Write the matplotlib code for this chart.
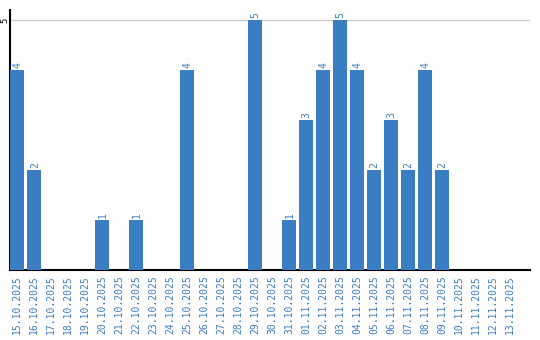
import matplotlib
matplotlib.use('Agg')
import matplotlib.pyplot as plt
from matplotlib.transforms import blended_transform_factory

DATES = ['15.10.2025', '16.10.2025', '17.10.2025', '18.10.2025', '19.10.2025',
         '20.10.2025', '21.10.2025', '22.10.2025', '23.10.2025', '24.10.2025',
         '25.10.2025', '26.10.2025', '27.10.2025', '28.10.2025', '29.10.2025',
         '30.10.2025', '31.10.2025', '01.11.2025', '02.11.2025', '03.11.2025',
         '04.11.2025', '05.11.2025', '06.11.2025', '07.11.2025', '08.11.2025',
         '09.11.2025', '10.11.2025', '11.11.2025', '12.11.2025', '13.11.2025']
COUNTS = [4, 2, 0, 0, 0, 1, 0, 1, 0, 0,
          4, 0, 0, 0, 5, 0, 1, 3, 4, 5,
          4, 2, 3, 2, 4, 2, 0, 0, 0, 0]
Y_TICKS = [5]

BLUE = '#3b7dc3'
MONO = 'DejaVu Sans Mono'

fig = plt.figure(figsize=(5.4, 3.4), dpi=100)
ax = fig.add_axes([10 / 540, 70 / 340, 520 / 540, 260 / 340])

x = range(len(DATES))
ax.bar(x, COUNTS, width=0.82, color=BLUE, zorder=3)
for xi, v in zip(x, COUNTS):
    if v > 0:
        ax.text(xi + 0.05, v + 0.05, str(v), rotation=90, ha='center', va='bottom',
                color=BLUE, fontsize=7, family=MONO)

ax.set_xlim(-0.41, 30.18)
ax.set_ylim(0, 5.2)
ax.set_xticks(list(x))
ax.set_xticklabels(DATES, rotation=90, color=BLUE, fontsize=7, family=MONO)
ax.tick_params(axis='x', length=0, pad=4)

# y tick: grid line plus a rotated label drawn just left of the axis
ax.set_yticks(Y_TICKS)
ax.set_yticklabels([])
ax.tick_params(axis='y', length=0)
ytrans = blended_transform_factory(fig.transFigure, ax.transData)
for t in Y_TICKS:
    fig.text(4.5 / 540, t, str(t), rotation=90, ha='center', va='center',
             fontsize=6.5, family=MONO, transform=ytrans)

ax.grid(axis='y', color='#cccccc', lw=1, zorder=0)
ax.spines['top'].set_visible(False)
ax.spines['right'].set_visible(False)
ax.spines['left'].set_linewidth(1.5)
ax.spines['bottom'].set_linewidth(1.5)

fig.savefig('out.png', dpi=100)
